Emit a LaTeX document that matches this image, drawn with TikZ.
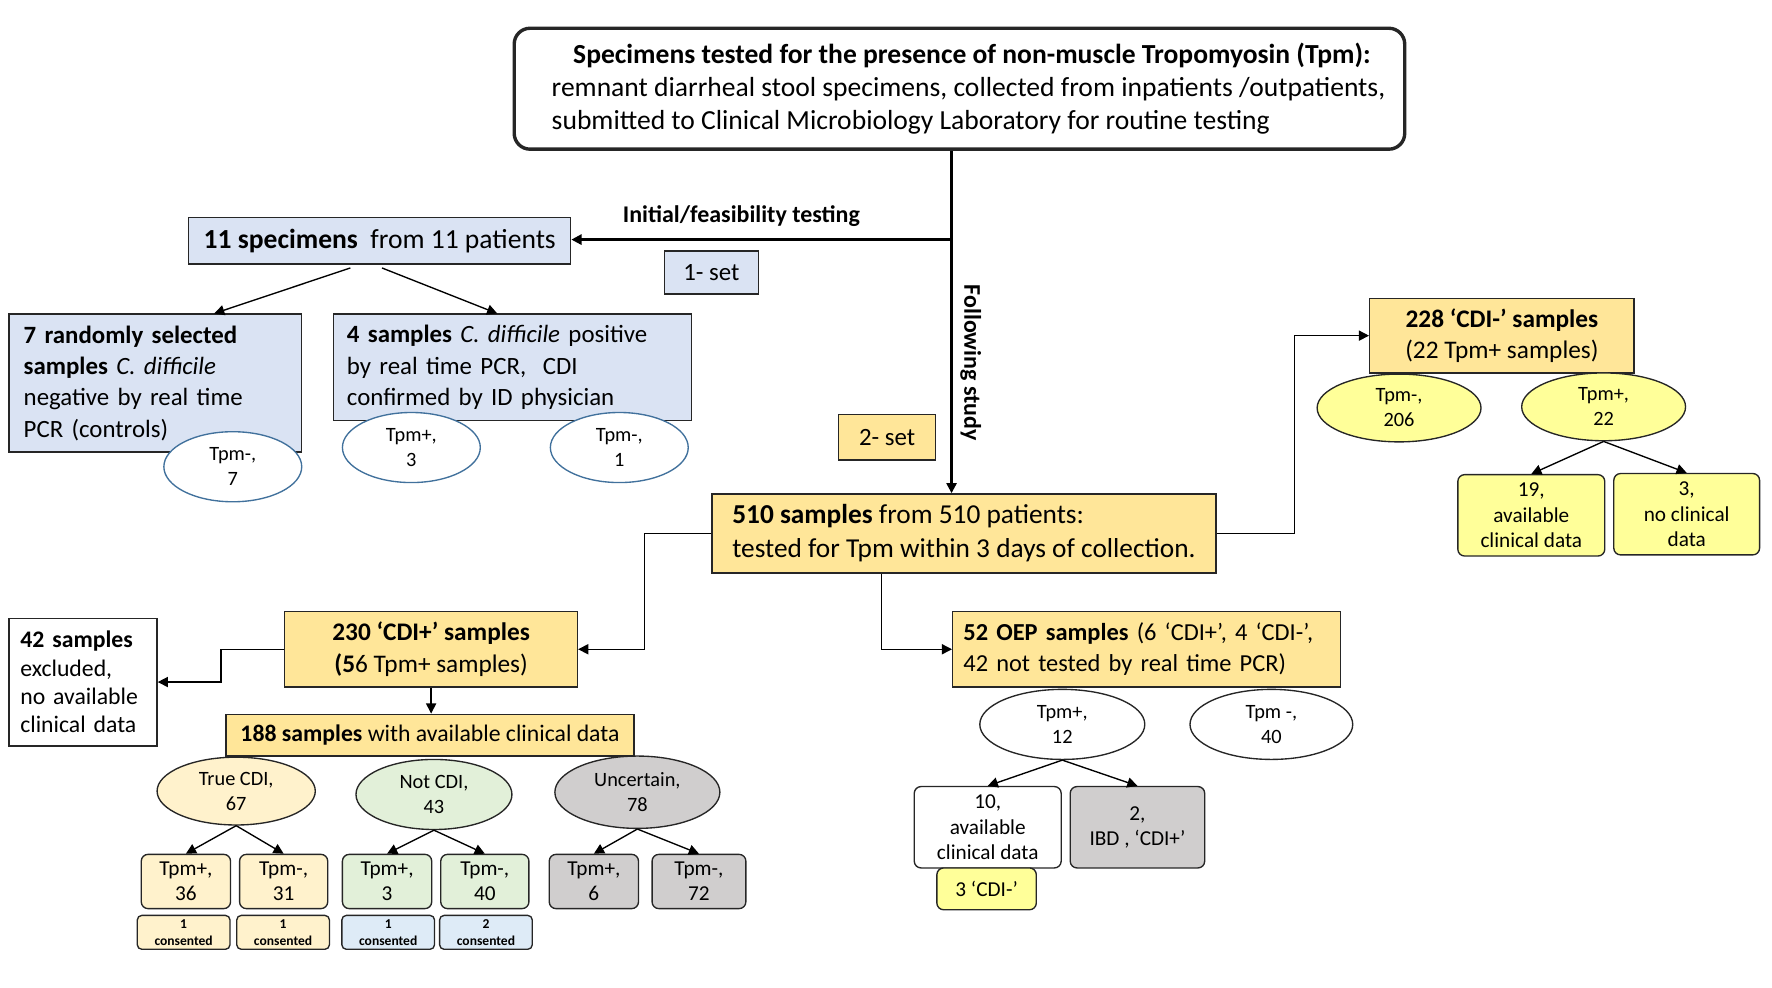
\documentclass[tikz,border=0pt]{standalone}
\usepackage{fontspec}
\setmainfont{Carlito}
\usepackage{tikz}
\usetikzlibrary{arrows.meta,shapes.geometric}
\definecolor{cBlue}{HTML}{DAE3F3}
\definecolor{cGold}{HTML}{FFE699}
\definecolor{cCream}{HTML}{FFF2CC}
\definecolor{cGreen}{HTML}{E2F0D9}
\definecolor{cGray}{HTML}{D0CECE}
\definecolor{cYel}{HTML}{FFFF99}
\definecolor{cSky}{HTML}{DEEBF7}
\definecolor{cEdge}{HTML}{41719C}

\begin{document}
\begin{tikzpicture}[x=1pt,y=-1pt,
  wh/.style 2 args={minimum width=#1pt, minimum height=#2pt},
  base/.style={draw=black!85, line width=0.6pt, inner sep=0pt, align=center},
  blue/.style={base, fill=cBlue},
  gold/.style={base, fill=cGold},
  rbox/.style={base, rounded corners=3pt, font=\fontsize{9.4}{11.2}\selectfont},
  oval/.style={base, ellipse, font=\fontsize{9}{11}\selectfont},
  cons/.style={base, rounded corners=2pt, wh={41}{15}, font=\fontsize{6}{7.5}\selectfont\bfseries},
  lbl/.style={inner sep=0pt, font=\fontsize{10.6}{12}\selectfont\bfseries},
  arr/.style={-{Triangle[length=4.5pt,width=4.5pt]}, line width=0.6pt},
  main/.style={arr, line width=1pt}]
\useasboundingbox (0,0) rectangle (784,436.7);

\node[base, line width=1.5pt, rounded corners=7pt, align=left, wh={394}{53.5}, font=\fontsize{12.2}{14.7}\selectfont] (tested) at (424.5,39.25)
  {\hspace*{17.5pt}\textbf{Specimens tested for the presence of non-muscle Tropomyosin (Tpm):}\\\hspace*{8pt}remnant diarrheal stool specimens, collected from inpatients /outpatients,\\\hspace*{8pt}submitted to Clinical\ Microbiology Laboratory for routine testing};

\node[blue, wh={169}{20.5}, font=\fontsize{12.2}{14}\selectfont] (init) at (168,106.5) {\textbf{11 specimens}\ \ from 11 patients};
\node[blue, wh={41.5}{19}, font=\fontsize{11}{13}\selectfont] (set1) at (314.75,120.5) {1- set};
\node[gold, wh={43}{20}, font=\fontsize{11}{13}\selectfont] (set2) at (392.5,193.5) {2- set};
\node[lbl] (initlbl) at (328,95.5) {Initial/feasibility testing};
\node[lbl, rotate=-90] (follbl) at (429.5,160.5) {Following study};

\node[blue, text width=116.5pt, inner xsep=6.5pt, minimum height=61pt, align=left, font=\fontsize{11}{13.85}\selectfont] (rand) at (68.75,169.5)
  {\textbf{7 randomly selected}\\\textbf{samples} \emph{C. difficile}\\negative by real time\\PCR (controls)};
\node[blue, text width=146.5pt, inner xsep=6pt, minimum height=47pt, align=left, font=\fontsize{11}{13.85}\selectfont] (pos) at (226.75,162.5)
  {\textbf{4 samples} \emph{C. difficile} positive\\by real time PCR,\ \ CDI\\confirmed by ID physician};
\node[oval, draw=cEdge, fill=white, wh={61}{31}] (o7) at (103,206.5) {Tpm-,\\7};
\node[oval, draw=cEdge, fill=white, wh={61}{31}] (o3) at (182,198) {Tpm+,\\3};
\node[oval, draw=cEdge, fill=white, wh={61}{31}] (o1) at (274,198) {Tpm-,\\1};

\node[gold, wh={223}{35}, align=left, font=\fontsize{12.1}{15}\selectfont] (s510) at (426.5,236)
  {\textbf{510 samples} from 510 patients:\\tested for Tpm within 3 days of collection.};

\node[gold, wh={117}{33}, font=\fontsize{11.2}{14}\selectfont] (c228) at (664.5,148.5) {\textbf{228 ‘CDI-’\ samples}\\(22 Tpm+ samples)};
\node[oval, fill=cYel, wh={72.5}{30}] (m206) at (619,180.5) {Tpm-,\\206};
\node[oval, fill=cYel, wh={72.5}{30}] (p22) at (709.5,180) {Tpm+,\\22};
\node[rbox, fill=cYel, wh={65}{36}] (a19) at (677.5,228) {19,\\available\\clinical data};
\node[rbox, fill=cYel, wh={64.5}{36}] (n3) at (746.25,227.5) {3,\\no clinical\\data};

\node[gold, wh={129.5}{33.5}, font=\fontsize{11.2}{14}\selectfont] (c230) at (190.75,287.25) {\textbf{230 ‘CDI+’\ samples}\\\textbf{(5}6 Tpm+ samples)};
\node[base, text width=55.5pt, inner xsep=5pt, minimum height=56.5pt, align=left, font=\fontsize{10.5}{12.6}\selectfont] (ex42) at (36.75,301.75)
  {\textbf{42 samples}\\excluded,\\no available\\clinical data};
\node[gold, wh={180.5}{18.5}, font=\fontsize{10.5}{12}\selectfont] (c188) at (190.25,325.25) {\textbf{188 samples} with available clinical data};

\node[oval, fill=cCream, wh={70}{30}] (tcdi) at (104.5,350) {True CDI,\\67};
\node[oval, fill=cGreen, wh={69}{31}] (ncdi) at (192,351.5) {Not CDI,\\43};
\node[oval, fill=cGray, wh={73}{32}] (unc) at (282,350.5) {Uncertain,\\78};
\node[rbox, fill=cCream, wh={39.5}{24}] (tp36) at (82.25,390) {Tpm+,\\36};
\node[rbox, fill=cCream, wh={39}{24}] (tm31) at (125.5,390) {Tpm-,\\31};
\node[rbox, fill=cGreen, wh={39.5}{24}] (tp3) at (171.25,390) {Tpm+,\\3};
\node[rbox, fill=cGreen, wh={39}{24}] (tm40) at (214.5,390) {Tpm-,\\40};
\node[rbox, fill=cGray, wh={39.5}{24}] (tp6) at (262.75,390) {Tpm+,\\6};
\node[rbox, fill=cGray, wh={41.5}{24}] (tm72) at (309.25,390) {Tpm-,\\72};
\node[cons, fill=cCream] (k36) at (81.25,412.5) {1\\consented};
\node[cons, fill=cCream] (k31) at (125.25,412.5) {1\\consented};
\node[cons, fill=cSky] (k3) at (171.75,412.5) {1\\consented};
\node[cons, fill=cSky] (k40) at (215,412.5) {2\\consented};

\node[gold, text width=162pt, inner xsep=4.75pt, minimum height=33.5pt, align=left, font=\fontsize{10.8}{13.5}\selectfont] (oep) at (507.25,287.25)
  {\textbf{52 OEP samples} (6 ‘CDI+’,\ 4 ‘CDI-’,\\42 not tested by real time PCR)};
\node[oval, fill=white, wh={73}{31}] (p12) at (470,320.5) {Tpm+,\\12};
\node[oval, fill=white, wh={72}{31}] (m40) at (562.5,320.5) {Tpm -,\\40};
\node[rbox, fill=white, wh={65}{36}] (a10) at (437,366) {10,\\available\\clinical data};
\node[rbox, fill=cGray, wh={59.5}{36}] (ibd) at (503.25,366) {2,\\IBD , ‘CDI+’};
\node[rbox, fill=cYel, wh={44}{18.5}] (cdi3) at (436.5,393.25) {3 ‘CDI-’};

\coordinate (split) at (421,106);
\draw[main] (split |- tested.south) -- (split |- s510.north);
\draw[main] (split) -- (split -| init.east);
\draw[arr] (s510.east) -- ++(34.5,0) |- (c228.west);
\draw[arr] (s510.west) -- ++(-29.5,0) |- (c230.east);
\draw[arr] ([xshift=-36.5pt]s510.south) |- (oep.west);
\draw[arr] (c230.west) -- ++(-28,0) |- (ex42.east);
\draw[arr] (c230.south) -- (c230.south |- c188.north);
\path[arr]
  ([xshift=-13pt,yshift=-1.5pt]init.south) edge ([xshift=26pt]rand.north)
  ([xshift=1pt,yshift=-1.5pt]init.south) edge ([xshift=-6.75pt]pos.north)
  (p22.south) edge (a19.north)
  (p22.south) edge (n3.north)
  (tcdi.south) edge (tp36.north)
  (tcdi.south) edge (tm31.north)
  (ncdi.south) edge (tp3.north)
  (ncdi.south) edge (tm40.north)
  (unc.south) edge (tp6.north)
  (unc.south) edge (tm72.north)
  (p12.south) edge (a10.north)
  (p12.south) edge (ibd.north)
  ;
\end{tikzpicture}
\end{document}
